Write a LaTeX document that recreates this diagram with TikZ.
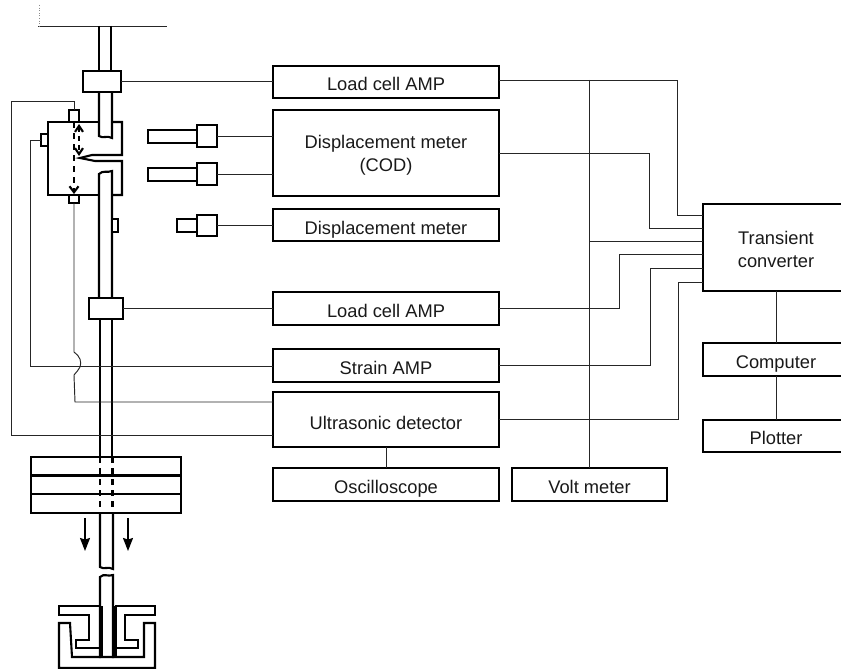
\documentclass[tikz,border=0pt]{standalone}
\usepackage{fontspec}
\setmainfont{Liberation Sans}
\usetikzlibrary{arrows.meta}
\tikzset{
  x=1pt,y=-1pt,
  blockbox/.style={draw=black,line width=2.1pt,inner sep=0pt,outer sep=0pt,align=center,font=\fontsize{18.3}{23}\selectfont,text=black!90},
  edgebox/.style={inner sep=0pt,outer sep=0pt,align=center,font=\fontsize{18.3}{23}\selectfont,text=black!90},
  partbox/.style={draw=black,line width=2.2pt,inner sep=0pt,outer sep=0pt,fill=white},
  thin wire/.style={draw=black!85,line width=.95pt},
  thick part/.style={draw=black,line width=2.1pt},
  heavy part/.style={draw=black,line width=3.2pt},
  dash part/.style={draw=black,line width=2.1pt,dash pattern=on 6pt off 5pt},
  pull arrow/.style={draw=black,line width=1.5pt,-{Stealth[length=13pt,width=10pt,inset=1.5pt]}},
  open head/.style={draw=black,line width=2.1pt,dash pattern=on 5pt off 4pt,{Straight Barb[length=6pt,width=8pt]}-{Straight Barb[length=6pt,width=8pt]}},
}
\newcommand{\blk}[6]{\node[blockbox,minimum width=#3-#2,minimum height=#5-#4] (#1) at ({(#2+#3)/2},{(#4+#5)/2}) {#6};}
\newcommand{\prt}[5]{\node[partbox,minimum width=#3-#2,minimum height=#5-#4] (#1) at ({(#2+#3)/2},{(#4+#5)/2}) {};}
\newcommand{\lowr}[2]{\smash{\raisebox{-#1pt}{#2}}}
\begin{document}
\begin{tikzpicture}
\useasboundingbox (0,0) rectangle (841,669);

% top plate
\draw[thin wire] (38,26.5) -- (167,26.5);
\draw[black!45,line width=.6pt,dotted] (39,5) -- (39,26);

% specimen
\draw[thick part,fill=white] (99,122) -- (48,122) -- (48,195) -- (99,195);
\draw[thick part] (112,122) -- (122,122) -- (122,155) -- (92,155) -- (80,158) -- (95,161) -- (122,161) -- (122,195) -- (112,195);

% rods
\draw[thick part] (99,26) -- (99,71) (111,26) -- (111,71);
\draw[thick part] (99,92) -- (99,136) .. controls (103,139) and (107,135) .. (112,138) -- (112,92);
\draw[thick part] (99,298) -- (99,174) .. controls (103,170) and (107,173) .. (112,171) -- (112,298);
\draw[thick part] (100,319) -- (100,457) (112,319) -- (112,457);
\draw[dash part] (100,457) -- (100,513) (112.5,457) -- (112.5,513);
\draw[thick part] (100,513) -- (100,567) .. controls (104,570) and (108,566) .. (113,569) -- (113,513);
\draw[thick part] (100,658) -- (100,577) .. controls (104,573) and (108,577) .. (113,575) -- (113,658);

% load cells
\prt{lcellA}{83}{121}{71}{92}
\prt{lcellB}{89}{123}{298}{319}

% transducers
\prt{topT}{69}{79}{110}{122}
\prt{lowT}{69}{79}{195}{203}
\prt{sideT}{41}{48}{134}{146}
\prt{rodT}{112}{118}{219}{232}

% dashed ultrasonic paths
\draw[dash part,-{Straight Barb[length=6pt,width=9pt]}] (74,122) -- (74,194);
\draw[open head] (79,124) -- (79,156);

% displacement sensors
\prt{barA}{148}{197}{130}{143}
\prt{headA}{197}{217}{125}{147}
\prt{barB}{148}{197}{168}{181}
\prt{headB}{197}{217}{163}{185}
\prt{barC}{177}{197}{219}{232}
\prt{headC}{197}{217}{215}{236}

% weight plates
\draw[thick part] (31,457) rectangle (181,475.5);
\draw[thick part] (31,475.5) rectangle (181,494);
\draw[thick part] (31,494) rectangle (181,513);
\draw[pull arrow] (85,518) -- (85,551);
\draw[pull arrow] (128,518) -- (128,551);

% grip
\draw[thick part] (100,606) -- (59,606) -- (59,615) -- (89,615) -- (89,640) -- (76,640) -- (76,648) -- (100,648);
\draw[thick part] (115,606) -- (155,606) -- (155,615) -- (125,615) -- (125,640) -- (138,640) -- (138,648) -- (115,648);
\draw[thick part] (59,623) -- (70,623) -- (72,657) -- (144,657) -- (144,623) -- (155,623) -- (155,668) -- (59,668) -- cycle;
\draw[heavy part] (101.5,606) -- (101.5,657) (115,606) -- (115,657);

% instrument blocks
\blk{lcA}{273}{499}{66}{98}{\lowr{8}{Load cell AMP}}
\blk{cod}{273}{499}{110}{196}{\lowr{6.5}{Displacement meter}\\\lowr{6.5}{(COD)}}
\blk{dsp}{273}{499}{209}{241}{\lowr{9}{Displacement meter}}
\blk{lcB}{273}{499}{292}{325}{\lowr{8.5}{Load cell AMP}}
\blk{stn}{273}{499}{349}{382}{\lowr{8.5}{Strain AMP}}
\blk{ult}{273}{499}{392}{447}{\lowr{9.5}{Ultrasonic detector}}
\blk{osc}{273}{499}{468}{501}{\lowr{8.5}{Oscilloscope}}
\blk{vlt}{512}{667}{468}{501}{\lowr{8.5}{Volt meter}}

% right-hand blocks, open at the picture edge
\node[edgebox,minimum width=138pt,minimum height=87pt] (trn) at (772,247.5) {\lowr{8}{\hspace*{8pt}Transient}\\\lowr{8}{\hspace*{8pt}converter}};
\node[edgebox,minimum width=138pt,minimum height=33pt] (cmp) at (772,359.5) {\lowr{8.5}{\hspace*{8pt}Computer}};
\node[edgebox,minimum width=138pt,minimum height=32pt] (plt) at (772,436) {\lowr{8}{\hspace*{8pt}Plotter}};
\draw[thick part] (trn.north east) -- (trn.north west) -- (trn.south west) -- (trn.south east);
\draw[thick part] (cmp.north east) -- (cmp.north west) -- (cmp.south west) -- (cmp.south east);
\draw[thick part] (plt.north east) -- (plt.north west) -- (plt.south west) -- (plt.south east);

% wires, left part
\draw[thin wire] (lcellA.east |- 0,81) -- (lcA.west |- 0,81);
\draw[thin wire] (headA.east) -- (cod.west |- headA.east);
\draw[thin wire] (headB.east) -- (cod.west |- headB.east);
\draw[thin wire] (headC.east) -- (dsp.west |- headC.east);
\draw[thin wire] (lcellB.east) -- (lcB.west |- lcellB.east);
\draw[thin wire] (topT.north) -- (74,101) -- (11.5,101) -- (11.5,435) -- (ult.west |- 0,435);
\draw[thin wire] (sideT.west) -- (30,140) -- (30,366) -- (stn.west |- 0,366);
\draw[thin wire] (lowT.south) -- (74,352) .. controls (80,356) and (82,362) .. (80,367) .. controls (79,370) and (76,372) .. (74,375) -- (75,402) -- (ult.west |- 0,402);
\draw[thin wire] (ult.south) -- (osc.north);

% wires, right part
\draw[thin wire] (lcA.east |- 0,80) -- (677,80) -- (677,215) -- (trn.west |- 0,215);
\draw[thin wire] (589,80) -- (589,468);
\draw[thin wire] (589,241) -- (trn.west |- 0,241);
\draw[thin wire] (cod.east |- 0,153) -- (649,153) -- (649,228) -- (trn.west |- 0,228);
\draw[thin wire] (lcB.east |- 0,308) -- (619,308) -- (619,254) -- (trn.west |- 0,254);
\draw[thin wire] (stn.east |- 0,365) -- (650,365) -- (650,268) -- (trn.west |- 0,268);
\draw[thin wire] (ult.east |- 0,419) -- (678,419) -- (678,282) -- (trn.west |- 0,282);
\draw[thin wire] (trn.south -| 776,0) -- (cmp.north -| 776,0);
\draw[thin wire] (cmp.south -| 776,0) -- (plt.north -| 776,0);
\end{tikzpicture}
\end{document}
